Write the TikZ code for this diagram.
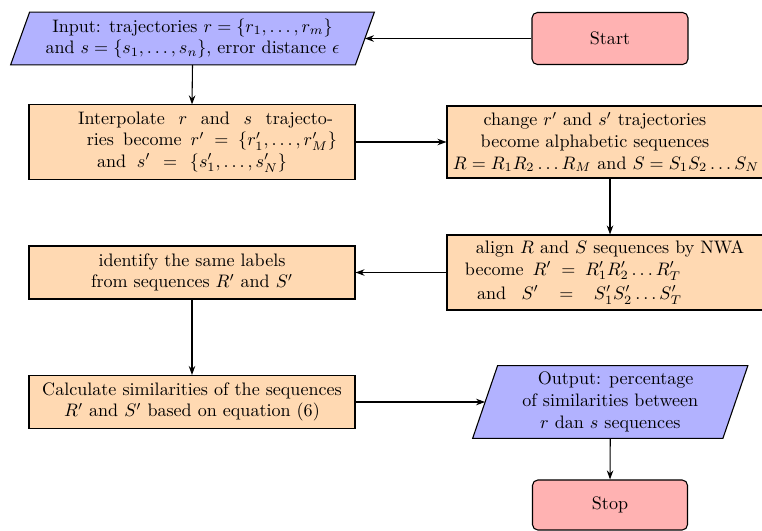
\documentclass[tikz,border=0pt]{standalone}
\usetikzlibrary{shapes.geometric,arrows.meta,backgrounds}
\newcommand\shline[2]{\makebox[180.4pt]{\hspace*{#1}#2}}
\begin{document}
\begin{tikzpicture}[x=0.5534pt,y=-0.5534pt,
  io/.style={rectangle, align=center, inner sep=0pt},
  iobox/.style={draw=black, fill=blue!30, line width=0.6pt},
  proc/.style={rectangle, draw=black, fill=orange!30, align=center,
    inner sep=0pt, minimum width=180.4pt, line width=0.6pt},
  term/.style={rectangle, rounded corners=3pt, draw=black, fill=red!30,
    align=center, inner sep=0pt, line width=0.6pt},
  arr/.style={-{Stealth[length=5pt,width=3.6pt]}, line width=0.6pt}]
\useasboundingbox (0,0) rectangle (762,531);

\node[term, minimum width=86.3pt, minimum height=28.8pt] (start) at (610,38.5) {Start};
\node[io, minimum width=190.4pt, minimum height=28.8pt] (input) at (192.5,38.5)
  {Input: trajectories $r=\{r_1,\dots,r_m\}$\\ and $s=\{s_1,\dots,s_n\}$, error distance $\epsilon$};
\node[proc, minimum height=41.0pt] (interp) at (192,142)
  {\shline{15pt}{\makebox[141.1pt][s]{Interpolate $r$ and $s$ trajecto-}}\\
   \shline{22pt}{\makebox[138.4pt][s]{ries become $r'=\{r'_1,\dots,r'_M\}$}}\\
   \shline{0pt}{\makebox[105.1pt][s]{and $s'=\{s'_1,\dots,s'_N\}$}}};
\node[proc, minimum height=39.8pt] (change) at (610,142)
  {\shline{-16.6pt}{change $r'$ and $s'$ trajectories}\\
   \shline{-16.6pt}{become alphabetic sequences}\\
   \shline{-4.4pt}{$R=R_1R_2\dots R_M$ and $S=S_1S_2\dots S_N$}};
\node[proc, minimum height=41.5pt] (align) at (610,272.5)
  {\shline{0pt}{align $R$ and $S$ sequences by NWA}\\
   \shline{-41pt}{\makebox[119.5pt][s]{become $R'=R'_1R'_2\dots R'_T$}}\\[1.5pt]
   \shline{-33.8pt}{\makebox[113.4pt][s]{and $S'=S'_1S'_2\dots S'_T$}}};
\node[proc, minimum height=29.3pt] (identify) at (192,272.5)
  {identify the same labels\\ from sequences $R'$ and $S'$};
\node[proc, minimum height=29.3pt] (calc) at (192,402)
  {Calculate similarities of the sequences\\ $R'$ and $S'$ based on equation (6)};
\node[io, minimum width=138.1pt, minimum height=39.8pt] (output) at (610.25,402)
  {\hspace*{6pt}Output: percentage\\ of similarities between\\ $r$ dan $s$ sequences};
\node[term, minimum width=85.8pt, minimum height=27.7pt] (stop) at (610,505) {Stop};

\begin{scope}[on background layer]
  \draw[iobox] ([xshift=5.26pt]input.north west) -- ([xshift=5.26pt]input.north east)
    -- ([xshift=-5.26pt]input.south east) -- ([xshift=-5.26pt]input.south west) -- cycle;
  \draw[iobox] ([xshift=6.9pt]output.north west) -- ([xshift=6.9pt]output.north east)
    -- ([xshift=-6.9pt]output.south east) -- ([xshift=-6.9pt]output.south west) -- cycle;
\end{scope}

\draw[arr] (start.west) -- (input.east);
\draw[arr] (input.south) -- (interp.north);
\draw[arr] (interp.east) -- (change.west);
\draw[arr] (change.south) -- (align.north);
\draw[arr] (align.west) -- (identify.east);
\draw[arr] (identify.south) -- (calc.north);
\draw[arr] (calc.east) -- (output.west);
\draw[arr] (output.south) -- (stop.north);
\end{tikzpicture}
\end{document}
